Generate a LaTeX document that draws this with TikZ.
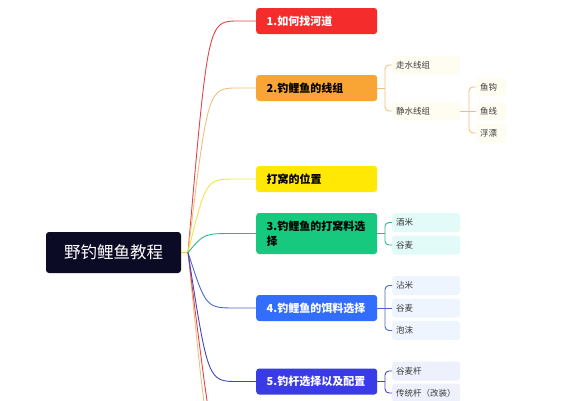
\documentclass[tikz,border=0pt]{standalone}
\usepackage{fontspec}
\setmainfont{Noto Sans CJK SC}
\usetikzlibrary{positioning}

\definecolor{rootbg}{HTML}{0B0B26}
\definecolor{redbg}{HTML}{F52C2C}
\definecolor{orangebg}{HTML}{F8A535}
\definecolor{yellowbg}{HTML}{FFE803}
\definecolor{greenbg}{HTML}{17C97F}
\definecolor{bluebg}{HTML}{336DFB}
\definecolor{indigobg}{HTML}{3B3BE6}
\definecolor{redln}{HTML}{E0454A}
\definecolor{orangeln}{HTML}{F0C07A}
\definecolor{yellowln}{HTML}{F5E24A}
\definecolor{greenln}{HTML}{28B88C}
\definecolor{blueln}{HTML}{4A68C4}
\definecolor{indigoln}{HTML}{4444BE}
\definecolor{leafo}{HTML}{FFFDF1}
\definecolor{leafg}{HTML}{E2FBF9}
\definecolor{leafb}{HTML}{EEF5FF}
\definecolor{leafi}{HTML}{EEF1FC}
\definecolor{leaftext}{HTML}{3A3A3A}

\begin{document}
\begin{tikzpicture}[x=1pt, y=-1pt]

  % Styles for the mind map
  \tikzset{
    rootbox/.style={
      fill=rootbg, text=white, rounded corners=3pt,
      minimum width=135pt, minimum height=41pt,
      font=\fontsize{16.5}{18}\selectfont
    },
    branch/.style={
      fill=#1, rounded corners=3pt, anchor=west,
      text width=100pt, inner xsep=10.5pt, align=left,
      minimum height=26pt, font=\fontsize{11}{15}\selectfont\bfseries
    },
    leaf/.style={
      fill=#1, rounded corners=3pt, anchor=west, text=leaftext,
      text width=60pt, inner xsep=4pt, align=left,
      minimum height=19pt, font=\fontsize{8.5}{10}\selectfont
    },
    small leaf/.style={
      leaf=#1, text width=22pt
    },
    link/.style={line width=0.9pt},
    brace/.style={line width=0.9pt, rounded corners=4pt}
  }

  \useasboundingbox (0,0) rectangle (578,400);
  \clip (0,0) rectangle (578,400);

  % Root
  \node[rootbox] (root) at (113.5,252.5) {野钓鲤鱼教程};
  \coordinate (hub) at (188,252.5);

  % Main branches
  \node[branch=redbg, text=white] (b1) at (256,21) {1.如何找河道};
  \node[branch=orangebg, text=black] (b2) at (256,88) {2.钓鲤鱼的线组};
  \node[branch=yellowbg, text=black] (b3) at (256,179) {打窝的位置};
  \node[branch=greenbg, text=black, minimum height=41pt] (b4) at (256,233.5)
    {3.钓鲤鱼的打窝料选\\择};
  \node[branch=bluebg, text=white] (b5) at (256,308) {4.钓鲤鱼的饵料选择};
  \node[branch=indigobg, text=white] (b6) at (256,381.5) {5.钓杆选择以及配置};

  % Branches running off the bottom edge
  \coordinate (off1) at (240,472);
  \coordinate (off2) at (246,480);

  % Connectors from the root
  \draw[link, orangeln] (root.east) -- (hub);
  \draw[link, orangeln] (hub) .. controls (210,472) .. (off1);
  \draw[link, redln] (hub) .. controls (216,480) .. (off2);
  \draw[link, redln] (hub) .. controls (208,21) .. (238,21) -- (b1.west);
  \draw[link, orangeln] (hub) .. controls (208,88) .. (238,88) -- (b2.west);
  \draw[link, yellowln] (hub) .. controls (206,179) .. (236,179) -- (b3.west);
  \draw[link, greenln] (hub) .. controls (204,233.5) .. (234,233.5) -- (b4.west);
  \draw[link, blueln] (hub) .. controls (206,308) .. (236,308) -- (b5.west);
  \draw[link, indigoln] (hub) .. controls (208,381.5) .. (238,381.5) -- (b6.west);

  % Line groups
  \node[leaf=leafo] (l1) at (392,65) {走水线组};
  \node[leaf=leafo] (l2) at (392,111) {静水线组};
  \draw[link, orangeln] (b2.east) -- ++(8,0);
  \draw[brace, orangeln] (l1.west) -- ++(-7,0) |- (l2.west);

  \node[small leaf=leafo] (g1) at (476,87) {鱼钩};
  \node[small leaf=leafo] (g2) at (476,111) {鱼线};
  \node[small leaf=leafo] (g3) at (476,133) {浮漂};
  \draw[link, orangeln] (l2.east) -- (g2.west);
  \draw[brace, orangeln] (g1.west) -- ++(-7,0) |- (g3.west);

  % Groundbait
  \node[leaf=leafg] (m1) at (392,222.5) {酒米};
  \node[leaf=leafg] (m2) at (392,245) {谷麦};
  \draw[link, greenln] (b4.east) -- ++(8,0);
  \draw[brace, greenln] (m1.west) -- ++(-7,0) |- (m2.west);

  % Bait
  \node[leaf=leafb] (e1) at (392,285.5) {沾米};
  \node[leaf=leafb] (e2) at (392,308) {谷麦};
  \node[leaf=leafb] (e3) at (392,330.5) {泡沫};
  \draw[link, blueln] (b5.east) -- (e2.west);
  \draw[brace, blueln] (e1.west) -- ++(-7,0) |- (e3.west);

  % Rods
  \node[leaf=leafi] (r1) at (392,371) {谷麦杆};
  \node[leaf=leafi] (r2) at (392,393) {传统杆（改装）};
  \draw[link, indigoln] (b6.east) -- ++(8,0);
  \draw[brace, indigoln] (r1.west) -- ++(-7,0) |- (r2.west);

\end{tikzpicture}
\end{document}
